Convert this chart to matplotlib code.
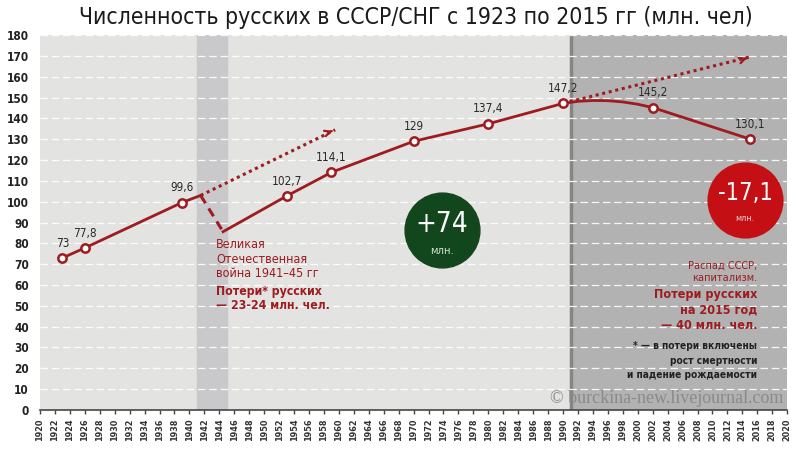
import numpy as np
import matplotlib.pyplot as plt

plt.rcParams['font.family'] = ['DejaVu Sans']
plt.rcParams['font.stretch'] = 'condensed'

# Данные (млн. чел)
years = [1923, 1926, 1939, 1953, 1959, 1970, 1980, 1990, 2002, 2015]
values = [73, 77.8, 99.6, 102.7, 114.1, 129, 137.4, 147.2, 145.2, 130.1]
labels = ["73", "77,8", "99,6", "102,7", "114,1", "129", "137,4", "147,2", "145,2", "130,1"]

# Война: подъём, провал, восстановление
war_up_x = [1939, 1941.5]
war_up_y = [99.6, 103]
war_drop_x = [1941.5, 1944.5]
war_drop_y = [103, 85.6]
war_rec_x = [1944.5, 1953]
war_rec_y = [85.6, 102.7]

# Пологая вершина 1990-2002
hump_x = [1990, 1992, 1994, 1996, 1998, 2000, 2002]
hump_y = [147.2, 148.2, 148.6, 148.5, 147.9, 146.8, 145.2]

# Тренды (пунктирные стрелки)
trend1 = ([1941.5, 1959.5], [103, 134.5])
trend2 = ([1990, 2015], [147.2, 169.5])

red = '#9e1b20'
fig = plt.figure(figsize=(8, 4.5), dpi=100)
ax = fig.add_axes([0.05, 0.089, 0.934, 0.833])
ax.set_facecolor('#e3e3e1')

ax.axvspan(1941, 1945, color='#c9c9cc', zorder=0)
ax.axvspan(1991, 2020, color='#b2b2b2', zorder=0)
ax.axvline(1991, color='#858585', lw=2.5, zorder=0.5)

ax.set_xlim(1920, 2020)
ax.set_ylim(0, 180)
ax.set_yticks(np.arange(0, 181, 10))
ax.set_xticks(np.arange(1920, 2021, 2))
ax.set_xticklabels([str(y) for y in range(1920, 2021, 2)], rotation=90,
                   fontsize=6.5, fontweight='bold', color='#333333')
ax.tick_params(axis='y', length=0, labelsize=8.5, labelcolor='#222222', pad=8)
for t in ax.get_yticklabels():
    t.set_fontweight('bold')
ax.tick_params(axis='x', length=3, width=1, color='#444444', pad=3)
ax.yaxis.grid(True, color='white', ls=(0, (6, 3)), lw=0.9, alpha=0.9)
ax.set_axisbelow(True)
for s in ['top', 'right', 'left']:
    ax.spines[s].set_visible(False)
ax.spines['bottom'].set_color('#444444')
ax.spines['bottom'].set_linewidth(1.2)

# Линии
ax.plot(years[:3], values[:3], color=red, lw=2, zorder=3)
ax.plot(war_up_x, war_up_y, color=red, lw=2, zorder=3)
ax.plot(war_drop_x, war_drop_y, color=red, lw=2.2, ls=(0, (3, 2)), zorder=3)
ax.plot(war_rec_x, war_rec_y, color=red, lw=2, zorder=3)
ax.plot(years[3:8], values[3:8], color=red, lw=2, zorder=3)
ax.plot(hump_x, hump_y, color=red, lw=2, zorder=3)
ax.plot(years[8:], values[8:], color=red, lw=2, zorder=3)
ax.plot(years, values, ls='none', marker='o', ms=6, mfc='white', mec=red, mew=1.8, zorder=4)

for tx, ty in [trend1, trend2]:
    ax.plot(tx, ty, color=red, lw=2.2, ls=(0, (1, 1.2)), zorder=3)
    ax.annotate('', xy=(tx[1], ty[1]), xytext=(tx[1] - 0.8, ty[1] - 1.0),
                arrowprops=dict(arrowstyle='->', color=red, lw=1.6), zorder=3)

for x, y, s in zip(years, values, labels):
    ax.text(x, y + 4, s, ha='center', va='bottom', fontsize=8.5, color='#2a2a2a', zorder=5)

# Круги
ax.scatter([1973.8], [86.4], s=2900, color='#12461c', zorder=5)
ax.text(1973.8, 89.5, '+74', ha='center', va='center', fontsize=20, color='white', zorder=6)
ax.text(1973.8, 76.5, 'млн.', ha='center', va='center', fontsize=8, color='#cfe3cf', zorder=6)
ax.scatter([2014.4], [100.8], s=2900, color='#c40f14', zorder=5)
ax.text(2014.4, 104, '-17,1', ha='center', va='center', fontsize=17, color='white', zorder=6)
ax.text(2014.4, 92, 'млн.', ha='center', va='center', fontsize=6.5, color='#f3d0d0', zorder=6)

# Подписи
ax.text(1943.6, 82.5, 'Великая\nОтечественная\nвойна 1941–45 гг', ha='left', va='top',
        fontsize=9, color=red, linespacing=1.15, zorder=5)
ax.text(1943.6, 60, 'Потери* русских\n— 23-24 млн. чел.', ha='left', va='top',
        fontsize=8.8, fontweight='bold', color=red, linespacing=1.1, zorder=5)
ax.text(2016, 71.5, 'Распад СССР,\nкапитализм.', ha='right', va='top',
        fontsize=7.8, color=red, linespacing=1.25, zorder=5)
ax.text(2016, 58.5, 'Потери русских\nна 2015 год\n— 40 млн. чел.', ha='right', va='top',
        fontsize=9, fontweight='bold', color=red, linespacing=1.25, zorder=5)
ax.text(2016, 33, '* — в потери включены\nрост смертности\nи падение рождаемости',
        ha='right', va='top', fontsize=7.3, fontweight='bold', color='#222222',
        linespacing=1.55, zorder=5)
ax.text(2019.5, 5.5, '© burckina-new.livejournal.com', ha='right', va='center',
        fontsize=13, color='#8a8a8a', family=['Liberation Serif', 'DejaVu Serif'], zorder=5)

fig.text(0.52, 0.962, 'Численность русских в СССР/СНГ с 1923 по 2015 гг (млн. чел)',
         ha='center', va='center', fontsize=16.5, color='#1a1a1a')

fig.savefig('out.png', dpi=100, facecolor='white')
